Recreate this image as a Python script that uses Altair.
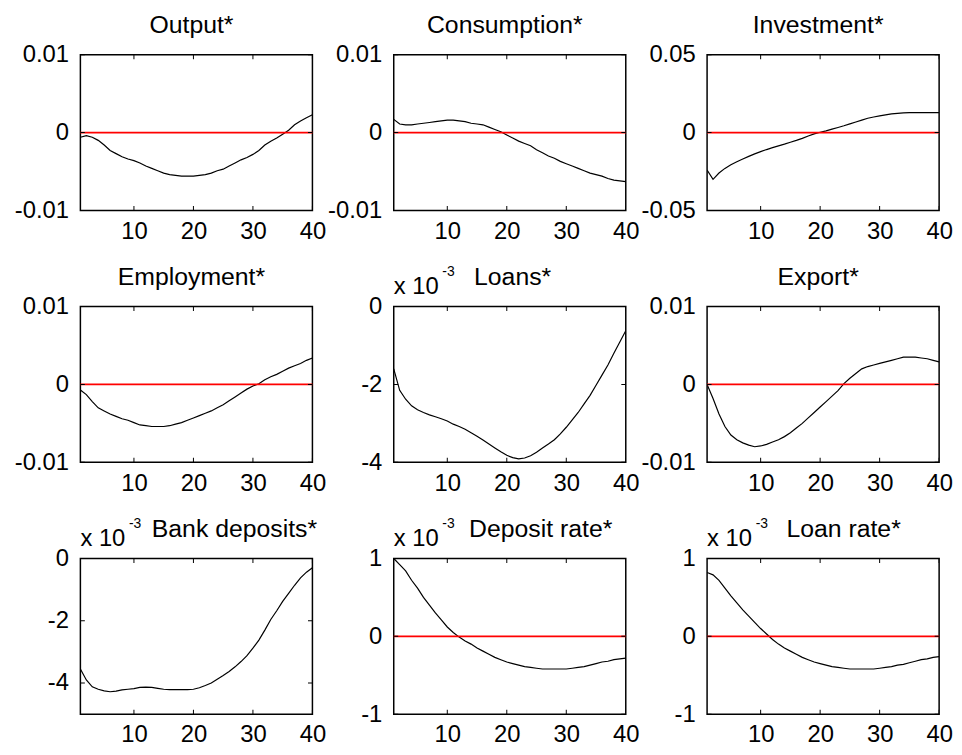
import altair as alt
import pandas as pd

# ---------------- data ----------------
periods = list(range(1, 41))
x_tick_values = [10, 20, 30, 40]

titles = ["Output*", "Consumption*", "Investment*",
          "Employment*", "Loans*", "Export*",
          "Bank deposits*", "Deposit rate*", "Loan rate*"]

# panels whose values are shown in units of 10^-3
scaled = [False, False, False, False, True, False, True, True, True]

y_domains = [[-0.01, 0.01], [-0.01, 0.01], [-0.05, 0.05],
             [-0.01, 0.01], [-4, 0], [-0.01, 0.01],
             [-5, 0], [-1, 1], [-1, 1]]
y_tick_values = [[-0.01, 0, 0.01], [-0.01, 0, 0.01], [-0.05, 0, 0.05],
                 [-0.01, 0, 0.01], [-4, -2, 0], [-0.01, 0, 0.01],
                 [-4, -2, 0], [-1, 0, 1], [-1, 0, 1]]

output = [-0.0006, -0.0004, -0.0006, -0.0010, -0.0016, -0.0023, -0.0027, -0.0031, -0.0034, -0.0036,
          -0.0039, -0.0043, -0.0046, -0.0049, -0.0052, -0.0054, -0.0055, -0.0056, -0.0056, -0.0056,
          -0.0055, -0.0054, -0.0052, -0.0049, -0.0047, -0.0043, -0.0039, -0.0035, -0.0032, -0.0028,
          -0.0023, -0.0016, -0.0011, -0.0007, -0.0002, 0.0003, 0.0010, 0.0015, 0.0019, 0.0023]

consumption = [0.0017, 0.0011, 0.0010, 0.0010, 0.0011, 0.0012, 0.0013, 0.0014, 0.0015, 0.0016,
               0.0016, 0.0015, 0.0014, 0.0012, 0.0011, 0.0010, 0.0007, 0.0004, 0.0001, -0.0003,
               -0.0007, -0.0011, -0.0014, -0.0017, -0.0022, -0.0026, -0.0030, -0.0033, -0.0037, -0.0040,
               -0.0043, -0.0046, -0.0049, -0.0052, -0.0054, -0.0056, -0.0059, -0.0061, -0.0062, -0.0063]

investment = [-0.0240, -0.0300, -0.0260, -0.0230, -0.0207, -0.0187, -0.0170, -0.0153, -0.0137, -0.0122,
              -0.0109, -0.0097, -0.0085, -0.0074, -0.0062, -0.0050, -0.0037, -0.0022, -0.0008, 0.0002,
              0.0011, 0.0022, 0.0033, 0.0044, 0.0056, 0.0068, 0.0080, 0.0092, 0.0100, 0.0107,
              0.0114, 0.0120, 0.0124, 0.0127, 0.0128, 0.0128, 0.0128, 0.0128, 0.0128, 0.0128]

employment = [-0.0007, -0.0013, -0.0022, -0.0030, -0.0034, -0.0038, -0.0041, -0.0044, -0.0046, -0.0049,
              -0.0052, -0.0053, -0.0054, -0.0054, -0.0054, -0.0053, -0.0051, -0.0049, -0.0046, -0.0043,
              -0.0040, -0.0037, -0.0034, -0.0030, -0.0026, -0.0021, -0.0016, -0.0011, -0.0006, -0.0002,
              0.0001, 0.0006, 0.0010, 0.0013, 0.0017, 0.0021, 0.0024, 0.0027, 0.0031, 0.0034]

loans = [-1.60, -2.15, -2.38, -2.55, -2.65, -2.72, -2.78, -2.83, -2.88, -2.94,
         -3.02, -3.08, -3.15, -3.24, -3.33, -3.43, -3.53, -3.63, -3.73, -3.82,
         -3.88, -3.91, -3.89, -3.83, -3.74, -3.63, -3.53, -3.42, -3.27, -3.10,
         -2.91, -2.72, -2.50, -2.28, -2.02, -1.76, -1.50, -1.20, -0.91, -0.62]

export = [0.0000, -0.0018, -0.0038, -0.0054, -0.0065, -0.0071, -0.0075, -0.0078, -0.0080, -0.0079,
          -0.0077, -0.0074, -0.0071, -0.0067, -0.0062, -0.0056, -0.0050, -0.0043, -0.0036, -0.0029,
          -0.0022, -0.0015, -0.0008, 0.0001, 0.0008, 0.0014, 0.0020, 0.0023, 0.0025, 0.0027,
          0.0029, 0.0031, 0.0033, 0.0035, 0.0035, 0.0035, 0.0034, 0.0033, 0.0031, 0.0029]

bank_deposits = [-3.55, -3.90, -4.12, -4.20, -4.25, -4.28, -4.26, -4.22, -4.20, -4.18,
                 -4.14, -4.13, -4.14, -4.17, -4.20, -4.21, -4.21, -4.21, -4.21, -4.20,
                 -4.15, -4.08, -4.00, -3.88, -3.76, -3.63, -3.48, -3.31, -3.12, -2.88,
                 -2.62, -2.30, -1.96, -1.68, -1.38, -1.12, -0.86, -0.62, -0.44, -0.30]

deposit_rate = [1.00, 0.92, 0.84, 0.72, 0.62, 0.50, 0.40, 0.30, 0.21, 0.12,
                0.05, -0.01, -0.06, -0.10, -0.15, -0.19, -0.23, -0.27, -0.30, -0.33,
                -0.35, -0.37, -0.39, -0.40, -0.41, -0.42, -0.42, -0.42, -0.42, -0.42,
                -0.41, -0.40, -0.39, -0.37, -0.35, -0.33, -0.32, -0.30, -0.29, -0.28]

loan_rate = [0.82, 0.79, 0.72, 0.62, 0.52, 0.43, 0.34, 0.26, 0.18, 0.10,
             0.03, -0.04, -0.10, -0.15, -0.19, -0.23, -0.27, -0.30, -0.33, -0.35,
             -0.37, -0.39, -0.40, -0.41, -0.42, -0.42, -0.42, -0.42, -0.42, -0.41,
             -0.40, -0.39, -0.37, -0.36, -0.34, -0.32, -0.30, -0.29, -0.27, -0.26]

series = [output, consumption, investment, employment, loans, export,
          bank_deposits, deposit_rate, loan_rate]

# ---------------- layout / style ----------------
W, H = 234, 157
FONT = "Liberation Sans"
TICK_FS = 24
TITLE_FS = 25
title_left = [None, None, None, None, 81, None, 72, 76, 80]  # start offsets for titles next to the exponent


def panel(i):
    xs = alt.Scale(domain=[1, 40], nice=False, zero=False)
    ys = alt.Scale(domain=y_domains[i], nice=False, zero=False)
    x_enc = alt.X("period:Q", scale=xs,
                  axis=alt.Axis(values=x_tick_values, title=None, grid=False, domain=False,
                                ticks=False, tickSize=0, labelPadding=9, labelFlush=False,
                                labelOverlap=False, labelExpr="toString(datum.value)"))
    y_enc = alt.Y("value:Q", scale=ys,
                  axis=alt.Axis(values=y_tick_values[i], title=None, grid=False, domain=False,
                                ticks=False, tickSize=0, labelPadding=12,
                                labelOverlap=False, labelExpr="toString(datum.value)"))

    layers = []
    line_df = pd.DataFrame({"period": periods, "value": series[i]})
    layers.append(alt.Chart(line_df).mark_line(color="black", strokeWidth=1.2, clip=True)
                  .encode(x=x_enc, y=y_enc))

    lo, hi = y_domains[i]
    if lo < 0 < hi:
        zero_df = pd.DataFrame({"value": [0]})
        layers.append(alt.Chart(zero_df).mark_rule(color="#ff0000", strokeWidth=1.8)
                      .encode(y=y_enc))

    # inward ticks on all four sides
    xt_df = pd.DataFrame({"period": x_tick_values * 2,
                          "value": [lo] * len(x_tick_values) + [hi] * len(x_tick_values)})
    layers.append(alt.Chart(xt_df).mark_tick(orient="vertical", size=9, thickness=1,
                                             color="black", clip=True, opacity=1)
                  .encode(x=x_enc, y=y_enc))
    yv = y_tick_values[i]
    yt_df = pd.DataFrame({"period": [1] * len(yv) + [40] * len(yv), "value": yv * 2})
    layers.append(alt.Chart(yt_df).mark_tick(orient="horizontal", size=9, thickness=1,
                                             color="black", clip=True, opacity=1)
                  .encode(x=x_enc, y=y_enc))

    # title
    t_df = pd.DataFrame({"label": [titles[i]]})
    if title_left[i] is None:
        layers.append(alt.Chart(t_df).mark_text(align="center", baseline="alphabetic",
                                                fontSize=TITLE_FS, font=FONT, color="black")
                      .encode(x=alt.value(W / 2 - 5), y=alt.value(-22), text="label:N"))
    else:
        layers.append(alt.Chart(t_df).mark_text(align="left", baseline="alphabetic",
                                                fontSize=TITLE_FS, font=FONT, color="black")
                      .encode(x=alt.value(title_left[i]), y=alt.value(-22), text="label:N"))

    if scaled[i]:
        e_df = pd.DataFrame({"label": ["x 10"]})
        layers.append(alt.Chart(e_df).mark_text(align="left", baseline="alphabetic",
                                                fontSize=TICK_FS, font=FONT, color="black")
                      .encode(x=alt.value(0), y=alt.value(-13), text="label:N"))
        s_df = pd.DataFrame({"label": ["-3"]})
        layers.append(alt.Chart(s_df).mark_text(align="left", baseline="alphabetic",
                                                fontSize=14, font=FONT, color="black")
                      .encode(x=alt.value(49), y=alt.value(-31), text="label:N"))

    return alt.layer(*layers).properties(width=W, height=H)


chart = (alt.concat(*[panel(i) for i in range(9)], columns=3,
                    spacing={"row": 97, "column": 82}, bounds="flush")
         .properties(padding={"left": 5, "top": 1, "right": 0, "bottom": 0})
         .configure_view(stroke="black", strokeWidth=1.5)
         .configure_axis(labelFont=FONT, labelFontSize=TICK_FS, labelColor="black"))

chart.save("out.html", embed_options={"renderer": "svg", "actions": False})
